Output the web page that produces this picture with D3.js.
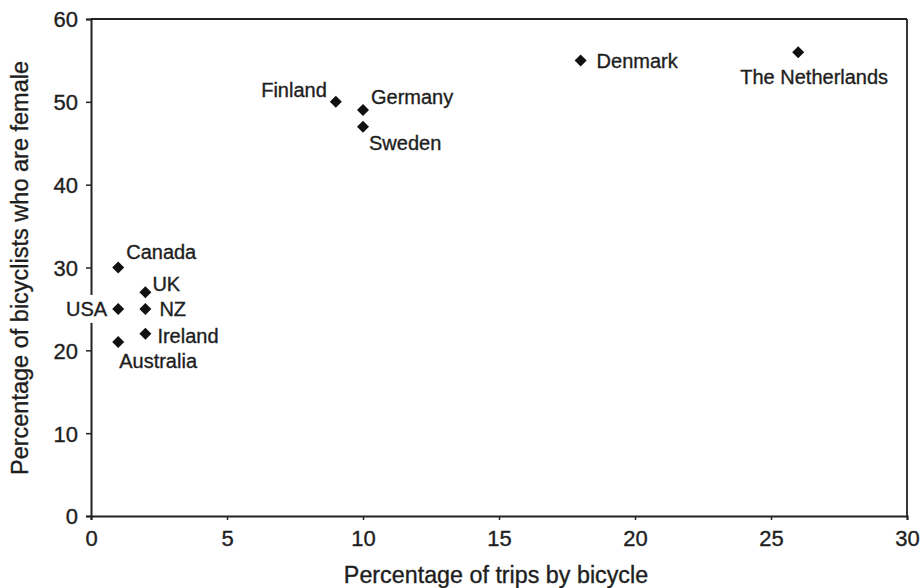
<!DOCTYPE html>
<html>
<head>
<meta charset="utf-8">
<script src="https://cdn.jsdelivr.net/npm/d3@7/dist/d3.min.js"></script>
<style>
  html, body { margin: 0; padding: 0; background: #fff; }
  svg { display: block; }
  text { font-family: "Liberation Sans", Arial, Helvetica, sans-serif; fill: #1e1e1e; stroke: #1e1e1e; stroke-width: 0.35px; }
</style>
</head>
<body>
<svg id="chart" width="922" height="588"></svg>
<script>
// ---- Data ----
const countries = ["Canada", "UK", "USA", "NZ", "Ireland", "Australia", "Finland", "Germany", "Sweden", "Denmark", "The Netherlands"];
const tripsByBicycle = [1, 2, 1, 2, 2, 1, 9, 10, 10, 18, 26];
const femaleShare = [30, 27, 25, 25, 22, 21, 50, 49, 47, 55, 56];
const xTicks = [0, 5, 10, 15, 20, 25, 30];
const yTicks = [0, 10, 20, 30, 40, 50, 60];
const xTitle = "Percentage of trips by bicycle";
const yTitle = "Percentage of bicyclists who are female";

// ---- Layout (label placement relative to each point) ----
const labelLayout = {
  "Canada": { dx: 8, dy: -16, anchor: "start" },
  "UK": { dx: 7, dy: -8, anchor: "start" },
  "USA": { dx: -11, dy: 0, anchor: "end" },
  "NZ": { dx: 14, dy: 0, anchor: "start" },
  "Ireland": { dx: 12, dy: 2, anchor: "start" },
  "Australia": { dx: 1, dy: 19, anchor: "start" },
  "Finland": { dx: -9, dy: -12, anchor: "end" },
  "Germany": { dx: 8, dy: -13, anchor: "start" },
  "Sweden": { dx: 6, dy: 16, anchor: "start" },
  "Denmark": { dx: 16, dy: 1, anchor: "start" },
  "The Netherlands": { dx: 16, dy: 25, anchor: "middle" }
};

const data = countries.map((c, i) => ({ name: c, x: tripsByBicycle[i], y: femaleShare[i] }));

const svg = d3.select("#chart");
const mLeft = 91, mRight = 907, mTop = 19, mBottom = 516;
const ink = "#222";

const x = d3.scaleLinear().domain([0, 30]).range([mLeft, mRight]);
const y = d3.scaleLinear().domain([0, 60]).range([mBottom, mTop]);

// Axes
const xAxis = svg.append("g").attr("transform", `translate(0,${mBottom})`)
  .call(d3.axisBottom(x).tickValues(xTicks).tickFormat(d3.format("d")).tickSize(4).tickPadding(10));
const yAxis = svg.append("g").attr("transform", `translate(${mLeft},0)`)
  .call(d3.axisLeft(y).tickValues(yTicks).tickFormat(d3.format("d")).tickSize(5).tickPadding(8));

[xAxis, yAxis].forEach(g => {
  g.select(".domain").attr("stroke", ink).attr("stroke-width", 2);
  g.selectAll(".tick line").attr("stroke", ink).attr("stroke-width", 1.5);
  g.selectAll(".tick text").attr("font-size", 22).attr("fill", "#1e1e1e")
    .style("font-family", '"Liberation Sans", Arial, sans-serif');
});
yAxis.selectAll(".tick text").attr("dy", "0.36em");

// Top and right border
svg.append("line").attr("x1", x(0)).attr("x2", x(30)).attr("y1", y(60)).attr("y2", y(60))
  .attr("stroke", ink).attr("stroke-width", 2);
svg.append("line").attr("x1", x(30)).attr("x2", x(30)).attr("y1", y(60)).attr("y2", y(0))
  .attr("stroke", ink).attr("stroke-width", 1.8);

// Labels (with white backing, as in the original which masks the axis)
const labels = svg.append("g");
data.forEach(d => {
  const L = labelLayout[d.name];
  const g = labels.append("g");
  const t = g.append("text")
    .attr("x", x(d.x) + L.dx)
    .attr("y", y(d.y) + L.dy)
    .attr("dy", "0.35em")
    .attr("text-anchor", L.anchor)
    .attr("font-size", 20)
    .text(d.name);
  const bb = t.node().getBBox();
  g.insert("rect", "text")
    .attr("x", bb.x - 2).attr("y", bb.y - 3)
    .attr("width", bb.width + 4).attr("height", bb.height + 6)
    .attr("fill", "#fff").attr("stroke", "none");
});

// Points (diamonds)
svg.append("g").selectAll("path").data(data).join("path")
  .attr("d", d3.symbol().type(d3.symbolSquare).size(72))
  .attr("transform", d => `translate(${x(d.x)},${y(d.y)}) rotate(45)`)
  .attr("fill", "#111");

// Axis titles
svg.append("text")
  .attr("x", 496).attr("y", 583)
  .attr("text-anchor", "middle")
  .attr("font-size", 23.3)
  .text(xTitle);
svg.append("text")
  .attr("transform", "translate(28,268) rotate(-90)")
  .attr("text-anchor", "middle")
  .attr("font-size", 23.5)
  .text(yTitle);
</script>
</body>
</html>
